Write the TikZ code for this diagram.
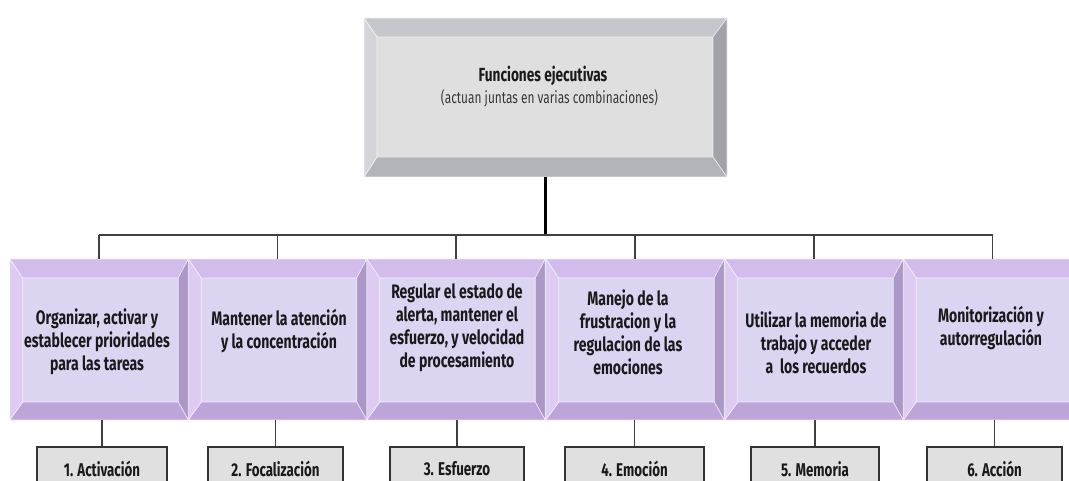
\documentclass[tikz,border=0pt]{standalone}
\usepackage{fontspec}
\newfontfamily\cf[FakeStretch=0.72]{Fira Sans}
\usetikzlibrary{calc}
\definecolor{pface}{HTML}{DCD5F2}
\definecolor{ptop}{HTML}{D2BCEC}
\definecolor{pleft}{HTML}{DDCBF2}
\definecolor{pright}{HTML}{AC98C6}
\definecolor{pbot}{HTML}{BDA5DA}
\definecolor{gface}{HTML}{DFDFDF}
\definecolor{gtop}{HTML}{C6C6CD}
\definecolor{gleft}{HTML}{D4D4DA}
\definecolor{gright}{HTML}{A2A2AA}
\definecolor{gbot}{HTML}{B3B3BA}
\definecolor{bface}{HTML}{E0E0E0}
\definecolor{ink}{HTML}{1A1A1A}
\newcommand\bevelfill[9]{%
  \fill[#5] (path picture bounding box.south west) rectangle (path picture bounding box.north east);
  \fill[#6,draw=white,draw opacity=.7,line width=.6pt] (path picture bounding box.north west) -- (path picture bounding box.north east) -- ([xshift=-#3,yshift=-#2]path picture bounding box.north east) -- ([xshift=#1,yshift=-#2]path picture bounding box.north west) -- cycle;
  \fill[#8,draw=white,draw opacity=.7,line width=.6pt] (path picture bounding box.north east) -- (path picture bounding box.south east) -- ([xshift=-#3,yshift=#4]path picture bounding box.south east) -- ([xshift=-#3,yshift=-#2]path picture bounding box.north east) -- cycle;
  \fill[#9,draw=white,draw opacity=.7,line width=.6pt] (path picture bounding box.south east) -- (path picture bounding box.south west) -- ([xshift=#1,yshift=#4]path picture bounding box.south west) -- ([xshift=-#3,yshift=#4]path picture bounding box.south east) -- cycle;
  \fill[#7,draw=white,draw opacity=.7,line width=.6pt] (path picture bounding box.south west) -- (path picture bounding box.north west) -- ([xshift=#1,yshift=-#2]path picture bounding box.north west) -- ([xshift=#1,yshift=#4]path picture bounding box.south west) -- cycle;
}
\tikzset{
  graybox/.style={minimum width=363pt, minimum height=159pt, inner sep=0pt, draw=none,
    path picture={\bevelfill{13pt}{19pt}{14pt}{20pt}{gface}{gtop}{gleft}{gright}{gbot}}},
  purplebox/.style={minimum width=178.5pt, minimum height=161pt, inner sep=0pt, draw=none,
    path picture={\bevelfill{13pt}{19pt}{10pt}{18pt}{pface}{ptop}{pleft}{pright}{pbot}}},
  boxtext/.style={font=\cf\bfseries\fontsize{19.5}{23}\selectfont, align=center, text=ink, inner sep=0pt},
  labelbox/.style={draw=black!80, line width=1.4pt, fill=bface, minimum height=44pt, inner sep=0pt,
    font=\cf\bfseries\fontsize{18.5}{20}\selectfont, text=ink},
  bus/.style={draw=black!75, line width=1.3pt},
  trunk/.style={draw=black, line width=2.8pt},
}
\begin{document}
\begin{tikzpicture}[x=1pt,y=-1pt]
\useasboundingbox (0,0) rectangle (1069,481);
\clip (0,0) rectangle (1069,481);
% top box
\node[graybox] (fe) at (545.5,97.5) {};
\node[font=\cf\bfseries\fontsize{19}{20}\selectfont, text=ink, inner sep=0pt, anchor=base] (fet) at (543,82) {Funciones ejecutivas};
\node[font=\cf\fontsize{16.5}{20}\selectfont, text=black!78, inner sep=0pt, anchor=base] (fes) at (549.5,104) {(actuan juntas en varias combinaciones)};
% purple boxes
\node[purplebox] (p1) at (99,339.5) {};
\node[purplebox] (p2) at (277.5,339.5) {};
\node[purplebox] (p3) at (456,339.5) {};
\node[purplebox] (p4) at (635,339.5) {};
\node[purplebox] (p5) at (814,339.5) {};
\node[purplebox] (p6) at (992.5,339.5) {};
\node[boxtext] (t1) at (97,342) {Organizar, activar y\\establecer prioridades\\para las tareas};
\node[boxtext] (t2) at (279,331.5) {Mantener la atención\\y la concentración};
\node[boxtext] (t3) at (457,327.5) {Regular el estado de\\alerta, mantener el\\esfuerzo, y velocidad\\de procesamiento};
\node[boxtext] (t4) at (628,332.5) {Manejo de la\\frustracion y la\\regulacion de las\\emociones};
\node[boxtext] (t5) at (816,343) {Utilizar la memoria de\\trabajo y acceder\\a\ \ los recuerdos};
\node[boxtext] (t6) at (991,328) {Monitorización y\\autorregulación};
% bottom label boxes
\node[labelbox, minimum width=130pt] (b1) at (102,469) {1. Activación};
\node[labelbox, minimum width=135pt] (b2) at (275.5,469) {2. Focalización};
\node[labelbox, minimum width=134pt] (b3) at (457,469) {3. Esfuerzo};
\node[labelbox, minimum width=139pt] (b4) at (634.5,469) {4. Emoción};
\node[labelbox, minimum width=128pt] (b5) at (815,469) {5. Memoria};
\node[labelbox, minimum width=135pt] (b6) at (994.5,469) {6. Acción};
% connectors
\coordinate (busy) at (0,235);
\draw[trunk] (fe.south) -- (fe.south |- busy);
\draw[bus] (p1.north |- busy) -- (p6.north |- busy);
\foreach \i in {1,...,6} {
  \draw[bus] (p\i.north |- busy) -- (p\i.north);
  \draw[bus] (b\i.north) -- (b\i.north |- p\i.south);
}
\end{tikzpicture}
\end{document}
